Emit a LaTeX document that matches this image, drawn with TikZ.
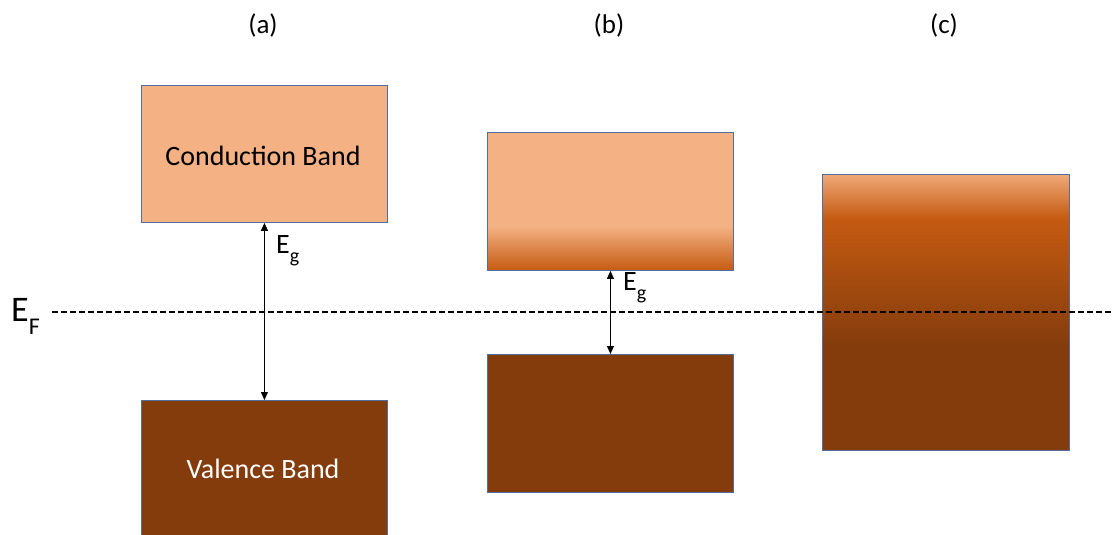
\documentclass[tikz,border=0pt]{standalone}
\usepackage{fontspec}
\setmainfont{Carlito}
\usetikzlibrary{arrows.meta}
\definecolor{bandlight}{HTML}{F4B183}
\definecolor{bandorange}{HTML}{C55A11}
\definecolor{banddark}{HTML}{843C0C}
\definecolor{bandedge}{HTML}{4F6FA0}
% conduction band of the narrow-gap case: light, turning orange at its foot
\pgfdeclareverticalshading{cbfoot}{100bp}{color(0bp)=(bandorange); color(25bp)=(bandorange); color(41bp)=(bandlight); color(75bp)=(bandlight); color(100bp)=(bandlight)}
% overlapping bands of the metal
\pgfdeclareverticalshading{metal}{100bp}{color(0bp)=(banddark); color(25bp)=(banddark); color(44bp)=(banddark); color(67bp)=(bandorange); color(75bp)=(bandlight!90!bandorange); color(100bp)=(bandlight)}
\tikzset{
  band/.style={draw=bandedge, line width=0.9pt, rectangle, inner sep=0pt, anchor=north west},
  caption/.style={font=\fontsize{27}{30}\selectfont, text=black},
  bandtext/.style={font=\fontsize{28}{32}\selectfont},
  gap/.style={{Triangle[length=8pt,width=7pt]}-{Triangle[length=8pt,width=7pt]}, line width=1pt, black},
  gaplabel/.style={font=\fontsize{28}{30}\selectfont, anchor=west, inner sep=0pt},
  fermi/.style={black, line width=1.1pt, dash pattern=on 5.5pt off 3.5pt},
}
\newcommand{\subdrop}[1]{\raisebox{-0.32em}{\fontsize{20}{22}\selectfont #1}}
\begin{document}
\begin{tikzpicture}[x=1pt,y=-1pt]
\useasboundingbox (0,0) rectangle (1112,535);
\clip (0,0) rectangle (1112,535);

% column captions
\node[caption] (capa) at (263,25) {(a)};
\node[caption] (capb) at (609,25) {(b)};
\node[caption] (capc) at (944,25) {(c)};

% Fermi level
\coordinate (efl) at (52,312);
\coordinate (efr) at (1112,312);
\draw[fermi] (efl) -- (efr);
\node[font=\fontsize{36}{40}\selectfont, inner sep=0pt, anchor=west] (ef) at (11,316) {E\raisebox{-0.36em}{\fontsize{24}{26}\selectfont F}};

% (a) insulator
\node[band, fill=bandlight, minimum width=246pt, minimum height=137pt] (cba) at (141,85) {};
\node[bandtext] (cbatext) at (263,156) {Conduction Band};
\node[band, fill=banddark, minimum width=246pt, minimum height=145pt] (vba) at (141,400) {};
\node[bandtext, text=white] (vbatext) at (263,469) {Valence Band};
\draw[gap] (cba.south) -- (vba.north);
\node[gaplabel] (ega) at (276,251) {E\subdrop{g}};

% (b) semiconductor
\node[band, shading=cbfoot, minimum width=246pt, minimum height=138pt] (cbb) at (487,132) {};
\node[band, fill=banddark, minimum width=246pt, minimum height=138pt] (vbb) at (487,354) {};
\draw[gap] (cbb.south) -- (vbb.north);
\node[gaplabel] (egb) at (623,288) {E\subdrop{g}};

% (c) metal
\node[band, shading=metal, minimum width=247pt, minimum height=276pt] (mc) at (822,174) {};
% dashed level shows through the metal block
\draw[fermi] (efl) -- (efr);
\end{tikzpicture}
\end{document}
